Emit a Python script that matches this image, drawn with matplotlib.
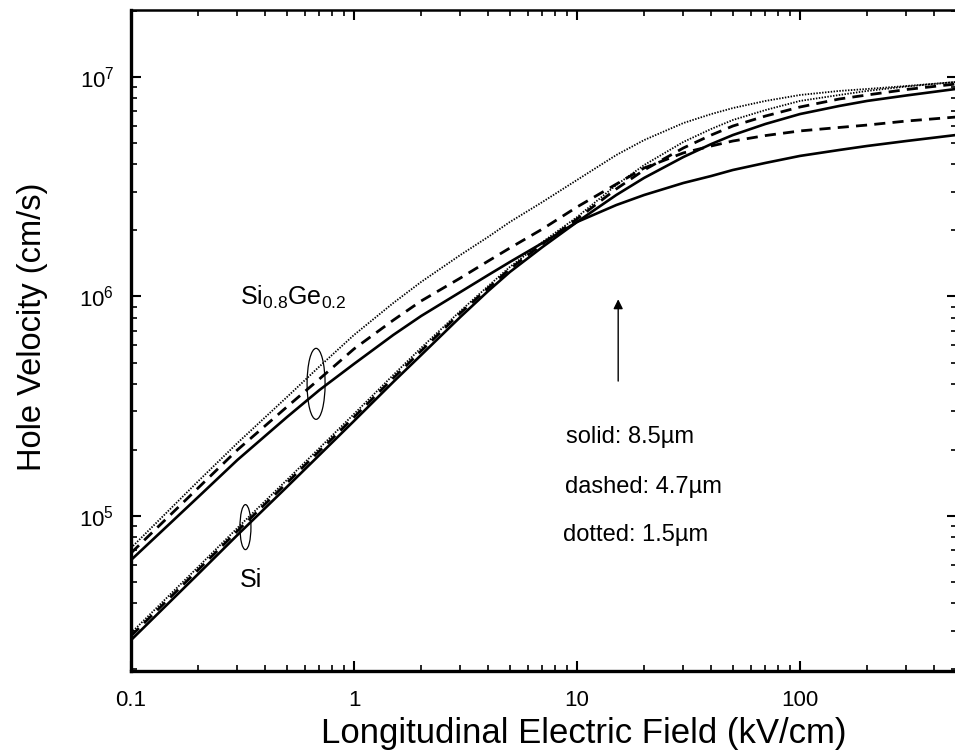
import numpy as np
import matplotlib
matplotlib.use("Agg")
import matplotlib.pyplot as plt
from matplotlib.patches import Ellipse
from matplotlib.transforms import ScaledTranslation

plt.rcParams['font.family'] = ['Liberation Sans', 'DejaVu Sans']
plt.rcParams['mathtext.fontset'] = 'custom'
plt.rcParams['mathtext.rm'] = 'Liberation Sans'
plt.rcParams['mathtext.it'] = 'Liberation Sans:italic'
plt.rcParams['mathtext.bf'] = 'Liberation Sans:bold'

# Longitudinal electric field (kV/cm)
field = [0.1, 0.2, 0.3, 0.5, 0.7, 1, 1.5, 2, 3, 4, 5, 7, 10, 15, 20, 30, 40, 50,
         70, 100, 150, 200, 300, 500]

# Hole velocity (cm/s) -- Si0.8Ge0.2
sige_solid = [6.3e4, 1.22e5, 1.8e5, 2.82e5, 3.75e5, 4.93e5, 6.68e5, 8.15e5, 1.048e6,
              1.253e6, 1.436e6, 1.753e6, 2.185e6, 2.61e6, 2.9e6, 3.29e6, 3.54e6, 3.77e6,
              4.06e6, 4.37e6, 4.65e6, 4.85e6, 5.11e6, 5.44e6]
sige_dashed = [6.78e4, 1.342e5, 2.0e5, 3.14e5, 4.21e5, 5.77e5, 7.8e5, 9.54e5, 1.214e6,
               1.451e6, 1.663e6, 2.03e6, 2.557e6, 3.25e6, 3.85e6, 4.51e6, 4.85e6, 5.11e6,
               5.41e6, 5.68e6, 5.89e6, 6.04e6, 6.3e6, 6.57e6]
sige_dotted = [7.15e4, 1.44e5, 2.15e5, 3.48e5, 4.8e5, 6.68e5, 9.34e5, 1.165e6, 1.546e6,
               1.87e6, 2.185e6, 2.695e6, 3.395e6, 4.41e6, 5.16e6, 6.17e6, 6.78e6, 7.22e6,
               7.78e6, 8.28e6, 8.64e6, 8.82e6, 9.1e6, 9.49e6]

# Hole velocity (cm/s) -- Si
si_solid = [2.72e4, 5.44e4, 8.19e4, 1.356e5, 1.897e5, 2.71e5, 4.08e5, 5.41e5, 8.07e5,
            1.06e6, 1.293e6, 1.68e6, 2.185e6, 2.9e6, 3.47e6, 4.32e6, 4.95e6, 5.44e6,
            6.11e6, 6.78e6, 7.38e6, 7.78e6, 8.24e6, 8.82e6]
si_dashed = [2.84e4, 5.68e4, 8.55e4, 1.414e5, 1.978e5, 2.82e5, 4.25e5, 5.65e5, 8.41e5,
             1.093e6, 1.335e6, 1.735e6, 2.255e6, 3.09e6, 3.77e6, 4.75e6, 5.44e6, 5.98e6,
             6.64e6, 7.3e6, 7.94e6, 8.28e6, 8.77e6, 9.29e6]
si_dotted = [2.93e4, 5.86e4, 8.82e4, 1.459e5, 2.04e5, 2.915e5, 4.39e5, 5.83e5, 8.59e5,
             1.116e6, 1.363e6, 1.771e6, 2.3e6, 3.22e6, 3.97e6, 5.06e6, 5.8e6, 6.37e6,
             7.07e6, 7.78e6, 8.28e6, 8.64e6, 9.05e6, 9.49e6]

legend_texts = ["solid: 8.5\u00b5m", "dashed: 4.7\u00b5m", "dotted: 1.5\u00b5m"]

W, H = 955, 752
fig = plt.figure(figsize=(W / 100, H / 100), dpi=100)
ax = fig.add_axes([131 / W, 1 - 671 / H, (957 - 131) / W, (671 - 10) / H])

solid_kw = dict(color='black', lw=1.9, linestyle='-')
dashed_kw = dict(color='black', lw=2.0, linestyle=(0, (4, 2.6)))
dotted_kw = dict(color='black', lw=1.3, linestyle=(0, (0.8, 0.8)))

for series, kw in [(sige_solid, solid_kw), (sige_dashed, dashed_kw), (sige_dotted, dotted_kw),
                   (si_solid, solid_kw), (si_dashed, dashed_kw), (si_dotted, dotted_kw)]:
    ax.plot(field, series, **kw)

ax.set_xscale('log')
ax.set_yscale('log')
ax.set_xlim(0.1, 10 ** (-1 + 826 / 223))
ax.set_ylim(10 ** (7 - 594 / 219.5), 10 ** (7 + 67 / 219.5))

ax.set_xticks([0.1, 1, 10, 100])
ax.set_xticklabels(['0.1', '1', '10', '100'])

ax.tick_params(which='both', direction='in', top=True, right=True)
ax.tick_params(which='major', length=7, width=1.5, labelsize=16)
ax.tick_params(which='minor', length=4, width=1.2)
ax.tick_params(axis='x', which='major', pad=14)
ax.tick_params(axis='y', which='major', pad=12)

for side in ['left', 'bottom']:
    ax.spines[side].set_linewidth(2.4)
for side in ['top', 'right']:
    ax.spines[side].set_linewidth(1.8)

ax.set_xlabel('Longitudinal Electric Field (kV/cm)', fontsize=25)
ax.xaxis.set_label_coords((584 - 131) / 826, (671 - 733) / 661)
ax.set_ylabel('Hole Velocity (cm/s)', fontsize=23.5)
ax.yaxis.set_label_coords((33 - 131) / 826, (671 - 327) / 661)
ax.xaxis.label.set_va('center')
ax.yaxis.label.set_va('center')

# arrow
ax.annotate('', xy=(15.3, 1.0e6), xytext=(15.3, 4.0e5),
            arrowprops=dict(arrowstyle='-|>', color='black', lw=1.0,
                            mutation_scale=14))

# legend-like text
for txt, ypx, xpx in zip(legend_texts, [437, 487, 535], [566, 565, 563]):
    ax.text((xpx - 131) / 826, (671 - ypx) / 661, txt, transform=ax.transAxes,
            fontsize=17, va='center', ha='left')

ax.text((240 - 131) / 826, (671 - 297) / 661, 'Si$_{0.8}$Ge$_{0.2}$',
        transform=ax.transAxes, fontsize=18, va='center', ha='left')
ax.text((240 - 131) / 826, (671 - 580) / 661, 'Si', transform=ax.transAxes,
        fontsize=18, va='center', ha='left')

# ellipses marking groups
for (xd, yd, w, h) in [(0.676, 4.0e5, 0.18, 0.71), (0.326, 8.9e4, 0.11, 0.45)]:
    tr = fig.dpi_scale_trans + ScaledTranslation(xd, yd, ax.transData)
    ax.add_patch(Ellipse((0, 0), w, h, transform=tr, fill=False, lw=0.9,
                         edgecolor='black', clip_on=False))

fig.savefig('out.png', dpi=100)
